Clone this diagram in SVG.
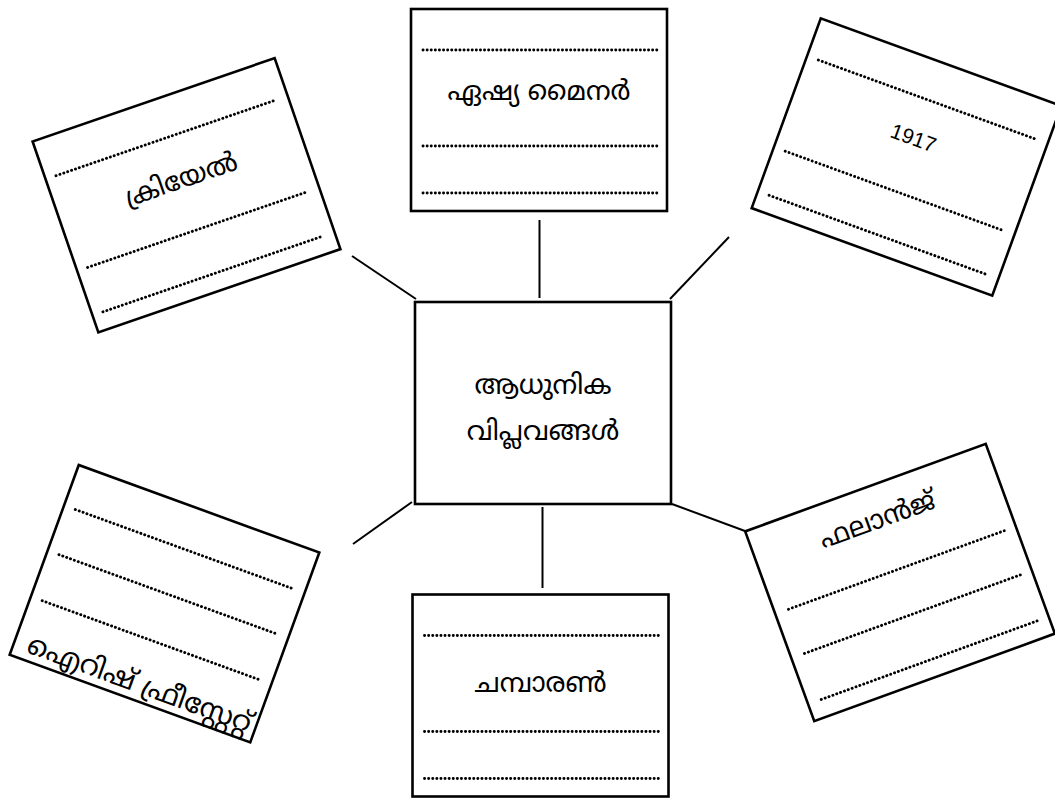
<svg xmlns="http://www.w3.org/2000/svg" width="1055" height="801" viewBox="0 0 1055 801">
<style>
.box{fill:#fff;stroke:#000;stroke-width:2.6}
.dot{fill:none;stroke:#000;stroke-width:2.9;stroke-linecap:round;stroke-dasharray:0.1 4}
.con{stroke:#000;stroke-width:2;fill:none}
.ml{font-family:"Noto Sans Malayalam","Noto Serif Malayalam","Meera","Rachana","Lohit Malayalam","Noto Sans",sans-serif;font-size:27px;fill:#000;text-anchor:middle}
.num{font-family:"Liberation Sans",Arial,sans-serif;font-size:21px;fill:#000;text-anchor:middle}
</style>
<rect width="1055" height="801" fill="#fff"/>
<g id="connectors">
<line class="con" x1="539.5" y1="220" x2="539.5" y2="298"/>
<line class="con" x1="352" y1="256" x2="416" y2="299"/>
<line class="con" x1="729" y1="237" x2="670" y2="299"/>
<line class="con" x1="353" y1="544" x2="412" y2="502"/>
<line class="con" x1="542.5" y1="507" x2="542.5" y2="588"/>
<line class="con" x1="672" y1="504" x2="745" y2="531"/>
</g>
<g id="center">
<rect class="box" x="415" y="302" width="256" height="202"/>
<text class="ml" x="543" y="394">ആധുനിക</text>
<text class="ml" x="543" y="440">വിപ്ലവങ്ങൾ</text>
</g>
<g id="top" transform="translate(539,110)">
<rect class="box" x="-128" y="-101" width="256" height="202"/>
<line class="dot" x1="-116" y1="-60" x2="118" y2="-60"/>
<line class="dot" x1="-116" y1="36" x2="118" y2="36"/>
<line class="dot" x1="-116" y1="83" x2="118" y2="83"/>
<text class="ml" x="0" y="-10">ഏഷ്യ മൈനർ</text>
</g>
<g id="bottom" transform="translate(540.5,695.5)">
<rect class="box" x="-128" y="-101" width="256" height="202"/>
<line class="dot" x1="-116" y1="-60" x2="118" y2="-60"/>
<line class="dot" x1="-116" y1="36" x2="118" y2="36"/>
<line class="dot" x1="-116" y1="83" x2="118" y2="83"/>
<text class="ml" x="0" y="-4">ചമ്പാരൺ</text>
</g>
<g id="topleft" transform="translate(186.5,195.3) rotate(-19)">
<rect class="box" x="-128" y="-101" width="256" height="202"/>
<line class="dot" x1="-117" y1="-61" x2="116" y2="-61"/>
<line class="dot" x1="-117" y1="36" x2="116" y2="36"/>
<line class="dot" x1="-117" y1="83" x2="116" y2="83"/>
<text class="ml" x="0" y="-8">ക്രിയേൽ</text>
</g>
<g id="topright" transform="translate(906.5,157) rotate(20)">
<rect class="box" x="-128" y="-101" width="256" height="202"/>
<line class="dot" x1="-116" y1="-61" x2="117" y2="-61"/>
<line class="dot" x1="-116" y1="36" x2="117" y2="36"/>
<line class="dot" x1="-116" y1="83" x2="117" y2="83"/>
<text class="num" x="0" y="-13">1917</text>
</g>
<g id="bottomleft" transform="translate(164.5,603.7) rotate(20)">
<rect class="box" x="-128" y="-101" width="256" height="202"/>
<line class="dot" x1="-116" y1="-58" x2="117" y2="-58"/>
<line class="dot" x1="-116" y1="-10" x2="117" y2="-10"/>
<line class="dot" x1="-116" y1="39" x2="117" y2="39"/>
<text class="ml" x="4" y="93" style="font-size:28px">ഐറിഷ് ഫ്രീസ്റ്റേറ്റ്</text>
</g>
<g id="bottomright" transform="translate(900,582.5) rotate(-20)">
<rect class="box" x="-128" y="-101" width="256" height="202"/>
<line class="dot" x1="-114" y1="-13" x2="118" y2="-13"/>
<line class="dot" x1="-114" y1="34" x2="118" y2="34"/>
<line class="dot" x1="-114" y1="83" x2="118" y2="83"/>
<text class="ml" x="0" y="-58">ഫലാൻജ്</text>
</g>
</svg>
